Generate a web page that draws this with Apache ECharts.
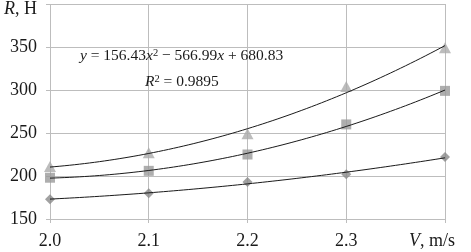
<!DOCTYPE html>
<html>
<head>
<meta charset="utf-8">
<script src="https://cdn.jsdelivr.net/npm/echarts@6/dist/echarts.min.js"></script>
<style>html,body{margin:0;padding:0;background:#fff}#c{width:471px;height:252px}</style>
</head>
<body>
<div id="c"></div>
<script>
// Data
const speeds = [2.0, 2.1, 2.2, 2.3, 2.4];
const seriesTriangle = [211, 227, 249, 304, 349];
const seriesSquare = [198, 206, 225, 260, 299];
const seriesDiamond = [173, 180, 193, 202, 222];
const xTickLabels = ['2.0', '2.1', '2.2', '2.3', '{i|V}{n|, m/s}{p|}'];
const yTickLabels = ['150', '200', '250', '300', '350', '{ti|R}{tn|, Н}'];
const yTickValues = [150, 200, 250, 300, 350, 400];
const equationText = '{i|y}{n| = 156.43}{i|x}{s|2}{n| − 566.99}{i|x}{n| + 680.83}';
const r2Text = '{i|R}{s|2}{n| = 0.9895}';

// Quadratic least-squares trendline from the data
function quadFit(xs, ys) {
  let S = [0,0,0,0,0], T = [0,0,0];
  for (let i = 0; i < xs.length; i++) {
    let p = 1;
    for (let k = 0; k < 5; k++) { S[k] += p; if (k < 3) T[k] += p * ys[i]; p *= xs[i]; }
  }
  const M = [[S[0],S[1],S[2],T[0]],[S[1],S[2],S[3],T[1]],[S[2],S[3],S[4],T[2]]];
  for (let c = 0; c < 3; c++) {
    for (let r = c + 1; r < 3; r++) {
      const f = M[r][c] / M[c][c];
      for (let k = c; k < 4; k++) M[r][k] -= f * M[c][k];
    }
  }
  const a = [0,0,0];
  for (let r = 2; r >= 0; r--) {
    let s = M[r][3];
    for (let k = r + 1; k < 3; k++) s -= M[r][k] * a[k];
    a[r] = s / M[r][r];
  }
  return a;
}
function trend(ys) {
  const a = quadFit(speeds, ys);
  const pts = [];
  const x0 = speeds[0], x1 = speeds[speeds.length - 1];
  const n = 80;
  for (let i = 0; i <= n; i++) {
    const x = x0 + (x1 - x0) * i / n;
    pts.push([x, a[0] + a[1] * x + a[2] * x * x]);
  }
  return pts;
}
const pair = ys => speeds.map((x, i) => [x, ys[i]]);

const FONT = '"Liberation Serif", "Times New Roman", "DejaVu Serif", serif';
const TXT = '#1a1a1a';
const chart = echarts.init(document.getElementById('c'), null, {renderer: 'canvas'});
const trendStyle = {type: 'line', showSymbol: false, symbol: 'none', smooth: false,
  lineStyle: {color: TXT, width: 1}, silent: true, z: 3};
const smallRich = {
  i: {fontFamily: FONT, fontSize: 15.5, fontStyle: 'italic', fill: TXT},
  n: {fontFamily: FONT, fontSize: 15.5, fill: TXT},
  s: {fontFamily: FONT, fontSize: 10.5, fill: TXT, verticalAlign: 'top'}
};
chart.setOption({
  animation: false,
  backgroundColor: '#fff',
  textStyle: {fontFamily: FONT},
  grid: {left: 50, right: 13, top: 4, bottom: 33},
  xAxis: {
    type: 'value', min: 2.0, max: 2.4, interval: 0.1,
    axisLine: {show: false},
    axisTick: {show: true, length: 4, lineStyle: {color: '#bdbdbd'}},
    splitLine: {show: true, lineStyle: {color: '#bdbdbd', width: 1}},
    axisLabel: {
      margin: 13, fontFamily: FONT, fontSize: 18, color: TXT,
      formatter: v => xTickLabels[Math.round((v - 2.0) * 10)],
      rich: {
        i: {fontFamily: FONT, fontSize: 18, fontStyle: 'italic', color: TXT},
        n: {fontFamily: FONT, fontSize: 18, color: TXT},
        p: {width: 26}
      }
    }
  },
  yAxis: {
    type: 'value', min: 150, max: 400, interval: 50,
    axisLine: {show: false},
    axisTick: {show: true, length: 4, lineStyle: {color: '#bdbdbd'}},
    splitLine: {show: true, lineStyle: {color: '#bdbdbd', width: 1}},
    axisLabel: {
      margin: 13, fontFamily: FONT, fontSize: 18, color: TXT,
      formatter: v => yTickLabels[yTickValues.indexOf(v)],
      rich: {
        ti: {fontFamily: FONT, fontSize: 18, fontStyle: 'italic', color: TXT, padding: [10, 0, 0, 0]},
        tn: {fontFamily: FONT, fontSize: 18, color: TXT, padding: [10, 0, 0, 0]}
      }
    }
  },
  series: [
    Object.assign({data: trend(seriesDiamond)}, trendStyle),
    Object.assign({data: trend(seriesSquare)}, trendStyle),
    Object.assign({data: trend(seriesTriangle)}, trendStyle),
    {type: 'scatter', data: pair(seriesDiamond), symbol: 'diamond', symbolSize: [10, 10],
      itemStyle: {color: '#8a8a8a'}, z: 2},
    {type: 'scatter', data: pair(seriesSquare), symbol: 'rect', symbolSize: [10, 10],
      itemStyle: {color: '#9a9a9a'}, z: 2},
    {type: 'scatter', data: pair(seriesTriangle), symbol: 'triangle', symbolSize: [12, 11],
      itemStyle: {color: '#ababab'}, z: 2}
  ],
  graphic: [
    {type: 'text', left: 80, top: 48, z: 10, style: {text: equationText, rich: smallRich}},
    {type: 'text', left: 145, top: 74, z: 10, style: {text: r2Text, rich: smallRich}}
  ]
});
</script>
</body>
</html>
